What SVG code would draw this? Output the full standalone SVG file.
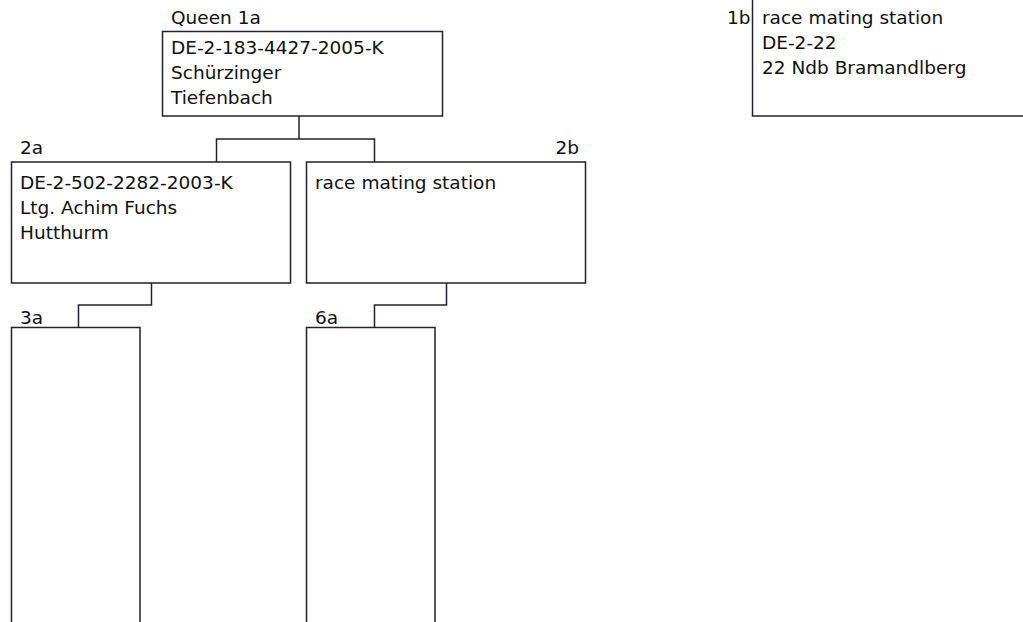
<svg xmlns="http://www.w3.org/2000/svg" width="1023" height="622" viewBox="0 0 1023 622">
<style>
.box{fill:#fff;stroke:#222230;stroke-width:1.5}
.con{fill:none;stroke:#222230;stroke-width:1.5}
text{font-family:"DejaVu Sans",sans-serif;font-size:18.5px;fill:#111}
</style>
<rect width="1023" height="622" fill="#fff"/>
<g id="connectors">
<path class="con" d="M299,116 V139 M216.5,162 V139 H374.5 V162"/>
<path class="con" d="M151.5,283 V305 H78.5 V327.5"/>
<path class="con" d="M446.5,283 V305 H374.5 V327.5"/>
</g>
<g id="node-1a">
<text x="171" y="24">Queen 1a</text>
<rect class="box" x="162.5" y="31.5" width="280" height="84.5"/>
<text x="171" y="54">DE-2-183-4427-2005-K</text>
<text x="171" y="79">Schürzinger</text>
<text x="171" y="104">Tiefenbach</text>
</g>
<g id="node-1b">
<text x="727" y="24">1b</text>
<rect class="box" x="752.5" y="-5" width="280" height="121"/>
<text x="762" y="24">race mating station</text>
<text x="762" y="49">DE-2-22</text>
<text x="762" y="74">22 Ndb Bramandlberg</text>
</g>
<g id="node-2a">
<text x="20" y="154">2a</text>
<rect class="box" x="11.5" y="162" width="279" height="121"/>
<text x="20" y="189">DE-2-502-2282-2003-K</text>
<text x="20" y="214">Ltg. Achim Fuchs</text>
<text x="20" y="239">Hutthurm</text>
</g>
<g id="node-2b">
<text x="579" y="154" text-anchor="end">2b</text>
<rect class="box" x="306.5" y="162" width="279" height="121"/>
<text x="315" y="189">race mating station</text>
</g>
<g id="node-3a">
<text x="20" y="324">3a</text>
<rect class="box" x="11.5" y="327.5" width="128.5" height="310"/>
</g>
<g id="node-6a">
<text x="315" y="324">6a</text>
<rect class="box" x="306.5" y="327.5" width="128.5" height="310"/>
</g>
</svg>
